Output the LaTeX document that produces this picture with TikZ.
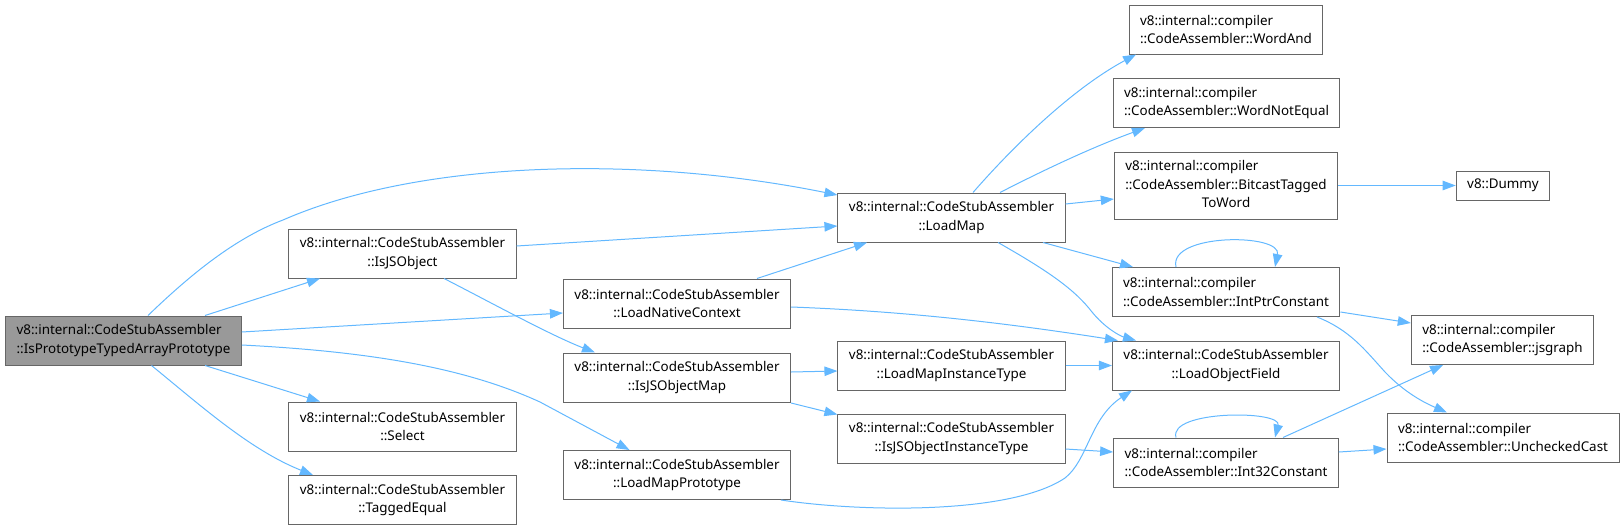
\documentclass[tikz,border=0pt]{standalone}
\usepackage{fontspec}
\usepackage{tikz}
\usetikzlibrary{arrows.meta}
\newfontfamily\dotfont{Noto Sans}
\definecolor{edgeblue}{RGB}{99,184,255}
\definecolor{boxline}{RGB}{102,102,102}
\definecolor{rootgray}{RGB}{153,153,153}
\tikzset{
  fn/.style={draw=boxline, line width=1pt, fill=white, inner xsep=11pt, inner ysep=3pt,
    minimum height=49pt, align=center, font=\dotfont\fontsize{13.4pt}{18.7pt}\selectfont},
  fnroot/.style={fn, fill=rootgray, align=left},
  fncomp/.style={fn, align=left},
  callarrow/.style={draw=edgeblue, line width=1pt, -{Triangle[length=13pt,width=9.5pt]}}
}

\begin{document}
\begin{tikzpicture}[x=1pt,y=-1pt]
  \useasboundingbox (0,0) rectangle (1624,530);

  \node[fnroot] (root) at (123.5,340.5) {v8::internal::CodeStubAssembler\\::IsPrototypeTypedArrayPrototype};

  \node[fn] (isjsobj) at (402.5,253.5) {v8::internal::CodeStubAssembler\\::IsJSObject};
  \node[fn] (select) at (402.5,426.5) {v8::internal::CodeStubAssembler\\::Select};
  \node[fn] (taggedeq) at (402.5,500) {v8::internal::CodeStubAssembler\\::TaggedEqual};

  \node[fn] (loadnatctx) at (677,303.5) {v8::internal::CodeStubAssembler\\::LoadNativeContext};
  \node[fn] (isjsobjmap) at (677,377.5) {v8::internal::CodeStubAssembler\\::IsJSObjectMap};
  \node[fn] (loadmapproto) at (677,475) {v8::internal::CodeStubAssembler\\::LoadMapPrototype};

  \node[fn] (loadmap) at (951.5,217.5) {v8::internal::CodeStubAssembler\\::LoadMap};
  \node[fn] (loadmapinst) at (951.5,365.5) {v8::internal::CodeStubAssembler\\::LoadMapInstanceType};
  \node[fn] (isjsobjinst) at (951.5,438.5) {v8::internal::CodeStubAssembler\\::IsJSObjectInstanceType};

  \node[fncomp] (wordand) at (1226,29.5) {v8::internal::compiler\\::CodeAssembler::WordAnd};
  \node[fncomp] (wordneq) at (1226.5,103) {v8::internal::compiler\\::CodeAssembler::WordNotEqual};
  \node[fncomp, minimum height=67pt] (bitcast) at (1226,185.5)
    {\begin{tabular}{@{}l@{}}v8::internal::compiler\\::CodeAssembler::BitcastTagged\\\multicolumn{1}{@{}c@{}}{ToWord}\end{tabular}};
  \node[fncomp] (intptr) at (1226,292) {v8::internal::compiler\\::CodeAssembler::IntPtrConstant};
  \node[fn] (loadobjfield) at (1226,365.5) {v8::internal::CodeStubAssembler\\::LoadObjectField};
  \node[fncomp] (int32) at (1226,462.5) {v8::internal::compiler\\::CodeAssembler::Int32Constant};

  \node[fn, minimum height=29pt] (dummy) at (1503,185.5) {v8::Dummy};
  \node[fncomp] (jsgraph) at (1502.5,340) {v8::internal::compiler\\::CodeAssembler::jsgraph};
  \node[fncomp] (unchecked) at (1503,437.5) {v8::internal::compiler\\::CodeAssembler::UncheckedCast};

  \draw[callarrow] ([xshift=24.5pt]root.north) .. controls (190,275) and (235,238) .. (283,220)
    .. controls (420,160) and (640,155) .. ([yshift=22.5pt]loadmap.west);
  \draw[callarrow] ([xshift=81.5pt]root.north) -- ([xshift=-82.5pt]isjsobj.south);
  \draw[callarrow] ([yshift=8.5pt]root.east) -- ([yshift=-9.5pt]loadnatctx.west);
  \draw[callarrow] ([yshift=-4.5pt]root.east) .. controls (380,352) and (470,370) .. (540,402)
    -- ([xshift=-47.5pt]loadmapproto.north);
  \draw[callarrow] ([xshift=81.5pt]root.south) -- ([xshift=-82.5pt]select.north);
  \draw[callarrow] ([xshift=28pt]root.south) .. controls (200,405) and (250,450) .. ([xshift=-89.5pt]taggedeq.north);

  \draw[callarrow] ([yshift=7.5pt]isjsobj.east) -- ([yshift=-8.5pt]loadmap.west);
  \draw[callarrow] ([xshift=41.5pt]isjsobj.south) .. controls (490,302) and (550,335) .. ([xshift=-82pt]isjsobjmap.north);

  \draw[callarrow] ([xshift=80pt]loadnatctx.north) -- ([xshift=-84.5pt]loadmap.south);
  \draw[callarrow] ([yshift=-3.5pt]loadnatctx.east) .. controls (900,311) and (1000,322) .. ([xshift=6pt]loadobjfield.north west);

  \draw[callarrow] ([yshift=5.5pt]isjsobjmap.east) -- ([yshift=-5.5pt]loadmapinst.west);
  \draw[callarrow] ([yshift=-25.5pt]isjsobjmap.east) -- ([yshift=-1pt]isjsobjinst.north west);
  \draw[callarrow] ([xshift=104pt]loadmapproto.south) .. controls (860,512) and (1010,515) .. (1065,478)
    .. controls (1088,460) and (1090,418) .. ([xshift=-94pt]loadobjfield.south);

  \draw[callarrow] ([xshift=21.5pt]loadmap.north) .. controls (1010,150) and (1070,90) .. ([xshift=-90pt]wordand.south);
  \draw[callarrow] ([xshift=48.5pt]loadmap.north) .. controls (1040,172) and (1090,148) .. ([xshift=-81.5pt]wordneq.south);
  \draw[callarrow] ([yshift=13.5pt]loadmap.east) -- ([yshift=-13.5pt]bitcast.west);
  \draw[callarrow] ([xshift=91.5pt]loadmap.south) -- ([xshift=-93pt]intptr.north);
  \draw[callarrow] ([xshift=46.5pt]loadmap.south) .. controls (1050,272) and (1075,290) .. (1092,312)
    .. controls (1105,328) and (1120,336) .. ([xshift=-90pt]loadobjfield.north);

  \draw[callarrow] (loadmapinst.east) -- (loadobjfield.west);
  \draw[callarrow] ([yshift=-10.5pt]isjsobjinst.east) -- ([yshift=10.5pt]int32.west);

  \draw[callarrow] (bitcast.east) -- (dummy.west);
  \draw[callarrow] ([xshift=-50pt]intptr.north) .. controls (1168,233) and (1282,233) .. ([xshift=49pt]intptr.north);
  \draw[callarrow] ([yshift=-20pt]intptr.east) -- ([yshift=17pt]jsgraph.west);
  \draw[callarrow] ([xshift=91pt]intptr.south) .. controls (1350,330) and (1365,350) .. (1385,372)
    .. controls (1405,393) and (1425,403) .. ([xshift=-56pt]unchecked.north);

  \draw[callarrow] ([xshift=-50pt]int32.north) .. controls (1168,410) and (1282,410) .. ([xshift=49pt]int32.north);
  \draw[callarrow] ([xshift=57pt]int32.north) -- ([xshift=-59.5pt]jsgraph.south);
  \draw[callarrow] ([yshift=10.5pt]int32.east) -- ([yshift=-11.5pt]unchecked.west);
\end{tikzpicture}
\end{document}
